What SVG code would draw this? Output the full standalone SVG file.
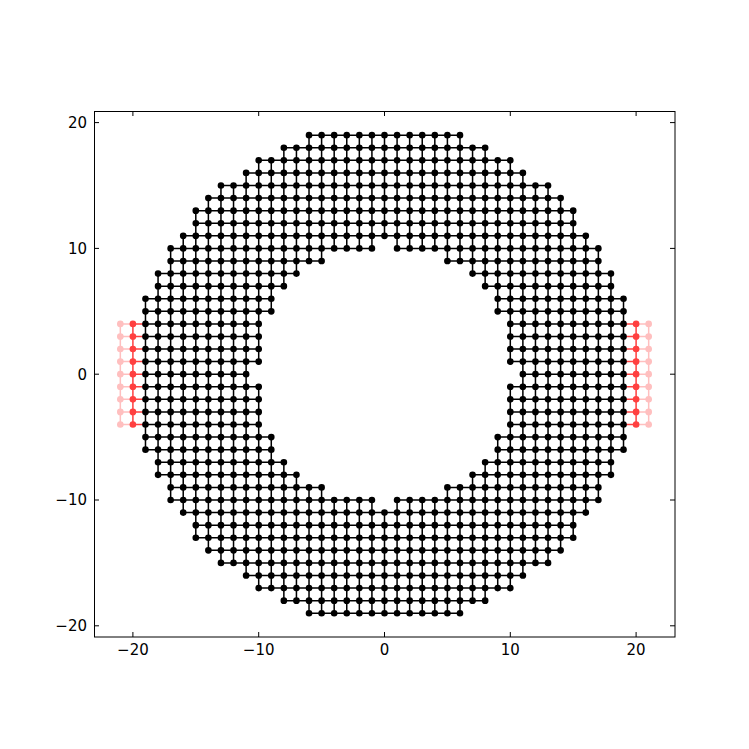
<svg xmlns="http://www.w3.org/2000/svg" xmlns:xlink="http://www.w3.org/1999/xlink" width="749" height="749" viewBox="0 0 749 749">
<style>
.edge{fill:none;stroke:#000;stroke-width:0.12}
.site{fill:none;stroke:#000;stroke-width:0.53;stroke-linecap:round;stroke-dasharray:0 1}
.red{stroke:#ff4040}
.pink{stroke:#ffbfbf}
.tick{stroke:#000;stroke-width:1;fill:none}
text{font-family:"DejaVu Sans",sans-serif;font-size:15px;fill:#000}
</style>
<defs>
<path id="rows" d="M-6 19H6.01M-8 18H8.01M-10 17H10.01M-11 16H11.01M-13 15H13.01M-14 14H14.01M-15 13H15.01M-15 12H15.01M-16 11H16.01M-17 10H-0.99M1 10H17.01M-17 9H-4.99M5 9H17.01M-18 8H-6.99M7 8H18.01M-18 7H-7.99M8 7H18.01M-19 6H-8.99M9 6H19.01M-19 5H-8.99M9 5H19.01M-19 4H-9.99M10 4H19.01M-19 3H-9.99M10 3H19.01M-19 2H-9.99M10 2H19.01M-19 1H-9.99M10 1H19.01M-19 0H-10.99M11 0H19.01M-19 -1H-9.99M10 -1H19.01M-19 -2H-9.99M10 -2H19.01M-19 -3H-9.99M10 -3H19.01M-19 -4H-9.99M10 -4H19.01M-19 -5H-8.99M9 -5H19.01M-19 -6H-8.99M9 -6H19.01M-18 -7H-7.99M8 -7H18.01M-18 -8H-6.99M7 -8H18.01M-17 -9H-4.99M5 -9H17.01M-17 -10H-0.99M1 -10H17.01M-16 -11H16.01M-15 -12H15.01M-15 -13H15.01M-14 -14H14.01M-13 -15H13.01M-11 -16H11.01M-10 -17H10.01M-8 -18H8.01M-6 -19H6.01"/>
</defs>
<rect x="0" y="0" width="749" height="749" fill="#fff"/>
<g id="plot" transform="translate(384.5,374.2) scale(12.58,-12.58)">
<g id="connectors">
<use xlink:href="#rows" class="edge"/>
<path class="edge" d="M19 -6V6M18 -8V8M17 -10V10M16 -11V11M15 -13V13M14 -14V14M13 -15V15M12 -15V15M11 -16V16M10 -17V-1M10 1V17M9 -17V-5M9 5V17M8 -18V-7M8 7V18M7 -18V-8M7 8V18M6 -19V-9M6 9V19M5 -19V-9M5 9V19M4 -19V-10M4 10V19M3 -19V-10M3 10V19M2 -19V-10M2 10V19M1 -19V-10M1 10V19M0 -19V-11M0 11V19M-1 -19V-10M-1 10V19M-2 -19V-10M-2 10V19M-3 -19V-10M-3 10V19M-4 -19V-10M-4 10V19M-5 -19V-9M-5 9V19M-6 -19V-9M-6 9V19M-7 -18V-8M-7 8V18M-8 -18V-7M-8 7V18M-9 -17V-5M-9 5V17M-10 -17V-1M-10 1V17M-11 -16V16M-12 -15V15M-13 -15V15M-14 -14V14M-15 -13V13M-16 -11V11M-17 -10V10M-18 -8V8M-19 -6V6"/>
<path class="edge red" d="M-20 -4V4M20 -4V4M-20 -4H-19M-20 -3H-19M-20 -2H-19M-20 -1H-19M-20 0H-19M-20 1H-19M-20 2H-19M-20 3H-19M-20 4H-19M19 -4H20M19 -3H20M19 -2H20M19 -1H20M19 0H20M19 1H20M19 2H20M19 3H20M19 4H20"/>
<path class="edge pink" d="M-21 -4V4M21 -4V4M-21 -4H-20M-21 -3H-20M-21 -2H-20M-21 -1H-20M-21 0H-20M-21 1H-20M-21 2H-20M-21 3H-20M-21 4H-20M20 -4H21M20 -3H21M20 -2H21M20 -1H21M20 0H21M20 1H21M20 2H21M20 3H21M20 4H21"/>
</g>
<g id="system-sites"><use xlink:href="#rows" class="site"/></g>
<g id="lead-sites-1"><path class="site red" d="M-20 -4V4.01M20 -4V4.01"/></g>
<g id="lead-sites-2"><path class="site pink" d="M-21 -4V4.01M21 -4V4.01"/></g>
</g>
<g id="axes">
<rect x="94.5" y="111.5" width="580.5" height="525.5" fill="none" stroke="#000" stroke-width="1"/>
<path class="tick" d="M132.9 637V632M258.7 637V632M384.5 637V632M510.3 637V632M636.1 637V632M132.9 111V116M258.7 111V116M384.5 111V116M510.3 111V116M636.1 111V116M94 122.6H99M94 248.4H99M94 374.2H99M94 500H99M94 625.8H99M675 122.6H670M675 248.4H670M675 374.2H670M675 500H670M675 625.8H670"/>
<g text-anchor="middle">
<text x="132.9" y="654.5">−20</text>
<text x="258.7" y="654.5">−10</text>
<text x="384.5" y="654.5">0</text>
<text x="510.3" y="654.5">10</text>
<text x="636.1" y="654.5">20</text>
</g>
<g text-anchor="end">
<text x="87" y="128">20</text>
<text x="87" y="253.8">10</text>
<text x="87" y="379.6">0</text>
<text x="87" y="505.4">−10</text>
<text x="87" y="631.2">−20</text>
</g>
</g>
</svg>
